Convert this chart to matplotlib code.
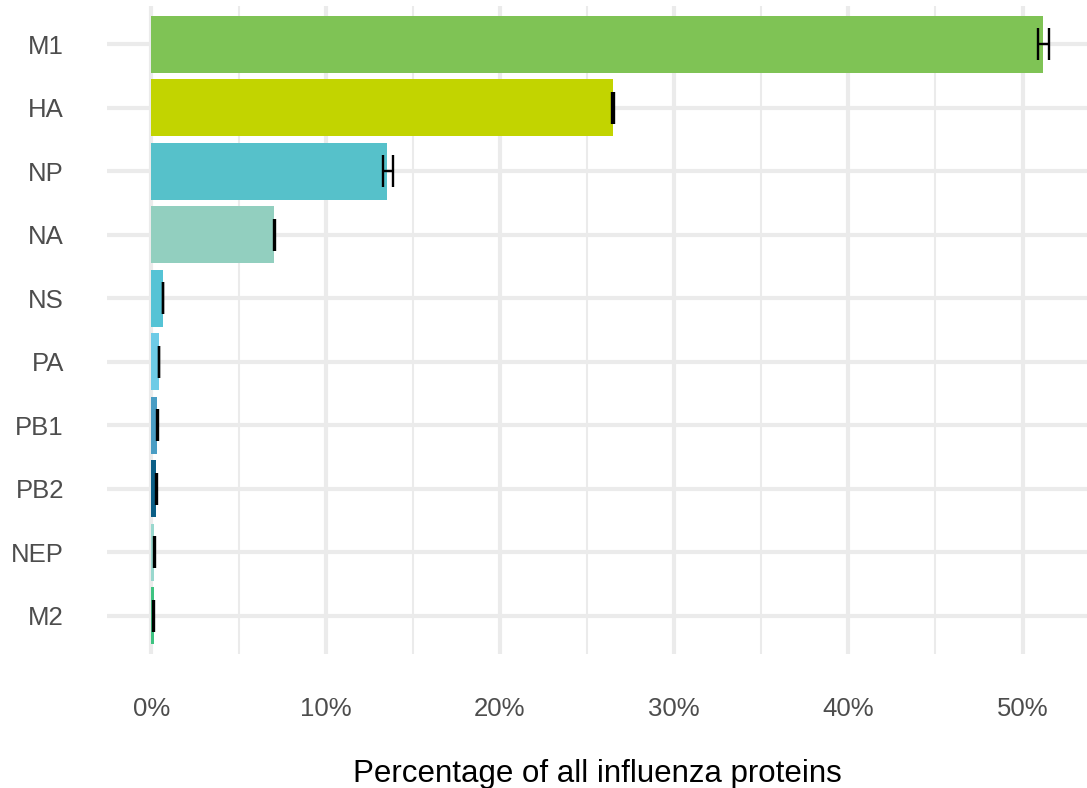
import matplotlib
matplotlib.use("Agg")
import matplotlib.pyplot as plt
from matplotlib.ticker import FuncFormatter, MultipleLocator
import numpy as np

plt.rcParams['font.family'] = ['Liberation Sans', 'DejaVu Sans']

proteins = ["M1", "HA", "NP", "NA", "NS", "PA", "PB1", "PB2", "NEP", "M2"]
pct_mean = [51.2, 26.5, 13.55, 7.05, 0.66, 0.43, 0.33, 0.29, 0.17, 0.12]
pct_low = [50.88, 26.45, 13.27, 7.01, 0.64, 0.41, 0.32, 0.28, 0.16, 0.10]
pct_high = [51.5, 26.55, 13.88, 7.09, 0.68, 0.45, 0.35, 0.31, 0.20, 0.13]
bar_colors = ["#7FC355", "#C2D400", "#56C1CA", "#92CFBF", "#55C3D5",
              "#6DCBE6", "#4A9DC4", "#0B5E86", "#99D8CE", "#3EC381"]
x_ticks = [0, 10, 20, 30, 40, 50]

fig = plt.figure(figsize=(10.87, 7.88), dpi=100)
ax = fig.add_axes([107 / 1087, 1 - 654 / 788, 1 - 107 / 1087, (654 - 6) / 788])

ypos = np.arange(len(proteins))
ax.barh(ypos, pct_mean, height=0.9, color=bar_colors, zorder=2)

# horizontal error bars with caps
ax.hlines(ypos, pct_low, pct_high, color="black", lw=1.7, zorder=3)
ax.vlines(pct_low, ypos - 0.25, ypos + 0.25, color="black", lw=1.7, zorder=3)
ax.vlines(pct_high, ypos - 0.25, ypos + 0.25, color="black", lw=1.7, zorder=3)

ax.set_ylim(len(proteins) - 1 + 0.6, -0.6)
ax.set_xlim(-2.55, 53.7)
ax.set_yticks(ypos)
ax.set_yticklabels(proteins)
ax.set_xticks(x_ticks)
ax.xaxis.set_major_formatter(FuncFormatter(lambda v, p: f"{v:.0f}%"))
ax.xaxis.set_minor_locator(MultipleLocator(5))

ax.grid(True, which="major", axis="both", color="#EBEBEB", lw=3.0, zorder=0)
ax.grid(True, which="minor", axis="x", color="#EBEBEB", lw=1.5, zorder=0)
ax.set_axisbelow(True)
for s in ax.spines.values():
    s.set_visible(False)

ax.tick_params(axis="both", which="both", length=0, labelsize=18.5, labelcolor="#4D4D4D")
ax.tick_params(axis="y", pad=31)
ax.tick_params(axis="x", pad=31)

ax.set_xlabel("Percentage of all influenza proteins", fontsize=22.5, color="black", labelpad=27)

fig.savefig("out.png", dpi=100, facecolor="white")
